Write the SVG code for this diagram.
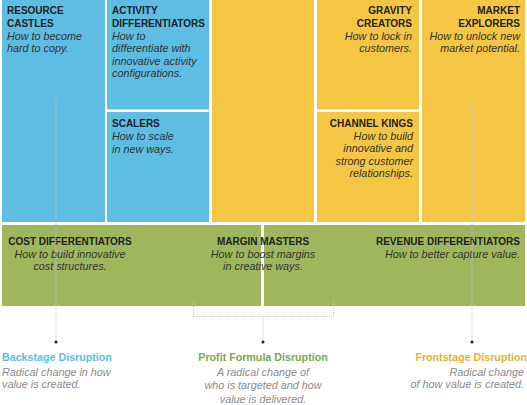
<svg xmlns="http://www.w3.org/2000/svg" width="527" height="405" viewBox="0 0 527 405">
<style>
.blue{fill:#5dbde3}
.yellow{fill:#f5c644}
.green{fill:#9fb75c}
.t{font-family:"Liberation Sans",Arial,sans-serif;font-weight:bold;font-size:10px;fill:#222}
.d{font-family:"Liberation Sans",Arial,sans-serif;font-style:italic;font-size:10.8px;fill:#333}
.h{font-family:"Liberation Sans",Arial,sans-serif;font-weight:bold;font-size:10.7px}
.s{font-family:"Liberation Sans",Arial,sans-serif;font-style:italic;font-size:10.8px;fill:#8a8a8a}
.e{text-anchor:end}
.m{text-anchor:middle}
.dot{fill:none;stroke:#c8c8c8;stroke-width:1;stroke-dasharray:1 1}
</style>
<rect width="527" height="405" fill="#fff"/>
<g id="resource-castles">
<rect class="blue" x="2" y="0" width="103" height="222"/>
<text class="t" x="7" y="14">RESOURCE</text>
<text class="t" x="7" y="27">CASTLES</text>
<text class="d" x="7" y="39.5">How to become</text>
<text class="d" x="7" y="52">hard to copy.</text>
</g>
<g id="activity-differentiators">
<rect class="blue" x="107" y="0" width="102" height="109.5"/>
<text class="t" x="112" y="14">ACTIVITY</text>
<text class="t" x="112" y="27">DIFFERENTIATORS</text>
<text class="d" x="112" y="39.5">How to</text>
<text class="d" x="112" y="52">differentiate with</text>
<text class="d" x="112" y="64.5">innovative activity</text>
<text class="d" x="112" y="77">configurations.</text>
</g>
<g id="scalers">
<rect class="blue" x="107" y="112" width="102" height="110"/>
<text class="t" x="112" y="127">SCALERS</text>
<text class="d" x="112" y="140">How to scale</text>
<text class="d" x="112" y="152.5">in new ways.</text>
</g>
<g id="yellow-blank">
<rect class="yellow" x="212" y="0" width="102" height="222"/>
</g>
<g id="gravity-creators">
<rect class="yellow" x="317" y="0" width="102" height="109.5"/>
<text class="t e" x="412" y="14">GRAVITY</text>
<text class="t e" x="412" y="27">CREATORS</text>
<text class="d e" x="412" y="39.5">How to lock in</text>
<text class="d e" x="412" y="52">customers.</text>
</g>
<g id="channel-kings">
<rect class="yellow" x="317" y="112" width="102" height="110"/>
<text class="t e" x="413" y="127">CHANNEL KINGS</text>
<text class="d e" x="413" y="139.5">How to build</text>
<text class="d e" x="413" y="152">innovative and</text>
<text class="d e" x="413" y="164.5">strong customer</text>
<text class="d e" x="413" y="177">relationships.</text>
</g>
<g id="market-explorers">
<rect class="yellow" x="422" y="0" width="103" height="222"/>
<text class="t e" x="520" y="14">MARKET</text>
<text class="t e" x="520" y="27">EXPLORERS</text>
<text class="d e" x="520" y="39.5">How to unlock new</text>
<text class="d e" x="520" y="52">market potential.</text>
</g>
<g id="cost-differentiators">
<rect class="green" x="2" y="225" width="259" height="81"/>
<text class="t m" x="70" y="244.5">COST DIFFERENTIATORS</text>
<text class="d m" x="70" y="257.5">How to build innovative</text>
<text class="d m" x="70" y="270">cost structures.</text>
</g>
<g id="revenue-differentiators">
<rect class="green" x="264" y="225" width="261" height="81"/>
<text class="t e" x="520" y="244.5">REVENUE DIFFERENTIATORS</text>
<text class="d e" x="520" y="257.5">How to better capture value.</text>
</g>
<g id="margin-masters">
<text class="t m" x="263" y="244.5">MARGIN MASTERS</text>
<text class="d m" x="263" y="257.5">How to boost margins</text>
<text class="d m" x="263" y="270">in creative ways.</text>
</g>
<g id="connectors">
<line class="dot" x1="56" y1="100" x2="56" y2="341"/>
<line class="dot" x1="472" y1="102" x2="472" y2="341"/>
<polyline class="dot" points="193.5,300 193.5,316.5 333.5,316.5 333.5,300"/>
<line class="dot" x1="263" y1="316.5" x2="263" y2="341"/>
<circle cx="56" cy="342" r="1.5" fill="#222"/>
<circle cx="263" cy="342" r="1.5" fill="#222"/>
<circle cx="472" cy="342" r="1.5" fill="#222"/>
</g>
<g id="backstage-disruption">
<text class="h" x="2" y="360.5" fill="#5bbde2">Backstage Disruption</text>
<text class="s" x="2" y="375.5">Radical change in how</text>
<text class="s" x="2" y="388">value is created.</text>
</g>
<g id="profit-formula-disruption">
<text class="h m" x="263" y="360.5" fill="#7ba84b">Profit Formula Disruption</text>
<text class="s m" x="263" y="375.5">A radical change of</text>
<text class="s m" x="263" y="389">who is targeted and how</text>
<text class="s m" x="263" y="402.5">value is delivered.</text>
</g>
<g id="frontstage-disruption">
<text class="h e" x="527" y="360.5" fill="#e3b330">Frontstage Disruption</text>
<text class="s e" x="524" y="375.5">Radical change</text>
<text class="s e" x="524" y="388">of how value is created.</text>
</g>
</svg>
